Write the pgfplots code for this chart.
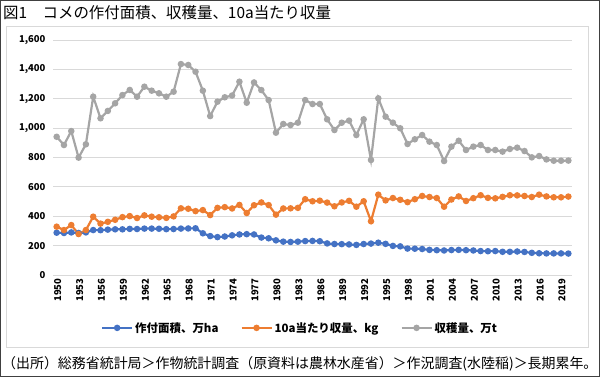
\documentclass[border=0pt]{standalone}
\usepackage{fontspec}
\setmainfont{Noto Sans CJK JP}
\usepackage{pgfplots}
\usepackage{pgfplotstable}
\pgfplotsset{compat=1.18}
\definecolor{cBlue}{HTML}{4472C4}
\definecolor{cOrange}{HTML}{ED7D31}
\definecolor{cGray}{HTML}{A5A5A5}

\pgfplotstableread{
year v
1950 288
1951 286
1952 290
1953 286
1954 290
1955 306
1956 305
1957 309
1958 311
1959 311
1960 314
1961 313
1962 316
1963 316
1964 315
1965 312
1966 313
1967 316
1968 317
1969 318
1970 284
1971 265
1972 258
1973 262
1974 270
1975 276
1976 278
1977 276
1978 255
1979 250
1980 236
1981 227
1982 225
1983 227
1984 231
1985 232
1986 230
1987 215
1988 211
1989 210
1990 208
1991 205
1992 211
1993 214
1994 220
1995 212
1996 198
1997 195
1998 180
1999 179
2000 177
2001 171
2002 169
2003 167
2004 170
2005 171
2006 169
2007 167
2008 163
2009 162
2010 163
2011 158
2012 158
2013 160
2014 157
2015 151
2016 148
2017 147
2018 147
2019 147
2020 146
}\areatab

\pgfplotstableread{
year v
1950 329
1951 306
1952 340
1953 279
1954 306
1955 397
1956 350
1957 362
1958 376
1959 394
1960 401
1961 388
1962 406
1963 397
1964 393
1965 389
1966 399
1967 454
1968 451
1969 435
1970 442
1971 408
1972 457
1973 462
1974 453
1975 477
1976 422
1977 475
1978 494
1979 476
1980 411
1981 453
1982 454
1983 457
1984 516
1985 502
1986 506
1987 493
1988 468
1989 494
1990 505
1991 465
1992 502
1993 366
1994 547
1995 508
1996 524
1997 512
1998 496
1999 516
2000 538
2001 531
2002 524
2003 465
2004 514
2005 535
2006 504
2007 523
2008 543
2009 525
2010 522
2011 532
2012 543
2013 542
2014 538
2015 531
2016 547
2017 535
2018 529
2019 529
2020 534
}\yieldtab

\pgfplotstableread{
year v
1950 941
1951 885
1952 980
1953 799
1954 890
1955 1214
1956 1067
1957 1117
1958 1169
1959 1225
1960 1260
1961 1214
1962 1282
1963 1255
1964 1237
1965 1214
1966 1248
1967 1436
1968 1430
1969 1384
1970 1255
1971 1082
1972 1180
1973 1210
1974 1222
1975 1316
1976 1173
1977 1311
1978 1259
1979 1191
1980 969
1981 1028
1982 1021
1983 1037
1984 1191
1985 1164
1986 1164
1987 1060
1988 987
1989 1037
1990 1051
1991 953
1992 1060
1993 783
1994 1203
1995 1078
1996 1037
1997 999
1998 892
1999 924
2000 953
2001 908
2002 885
2003 776
2004 874
2005 914
2006 851
2007 874
2008 885
2009 851
2010 851
2011 840
2012 858
2013 867
2014 844
2015 801
2016 810
2017 787
2018 778
2019 778
2020 779
}\harvesttab

\begin{document}
\begin{tikzpicture}[x=1bp,y=1bp]
\useasboundingbox (0,0) rectangle (600,377);
\draw[line width=1.2bp, black!75] (0.6,0.6) rectangle (599.4,376.4);
\draw[line width=0.8bp, black!15] (6,30) rectangle (588,351);
\node[anchor=west, inner sep=0pt, font=\fontsize{15.5}{17}\selectfont] at (3,364) {図1　コメの作付面積、収穫量、10a当たり収量};
\node[anchor=west, inner sep=0pt, font=\fontsize{14}{16}\selectfont] at (2,13) {（出所）総務省統計局＞作物統計調査（原資料は農林水産省）＞作況調査(水陸稲)＞長期累年。};
\begin{axis}[
  at={(53bp,102bp)}, anchor=south west,
  scale only axis, width=519bp, height=235bp,
  xmin=1949.5, xmax=2020.5, ymin=0, ymax=1600,
  ytick={0,200,...,1600},
  xtick={1950,1953,...,2019},
  axis line style={draw=none},
  major tick length=0pt,
  ymajorgrids, grid style={black!15, line width=0.8bp},
  /pgf/number format/assume math mode=true,
  ticklabel style={font=\fontsize{9.5}{11}\selectfont\bfseries},
  yticklabel style={/pgf/number format/1000 sep={,}, xshift=-4bp},
  xticklabel style={/pgf/number format/1000 sep={}, rotate=90, anchor=east, yshift=-1bp},
  legend columns=3,
  legend style={at={(0.476,-0.225)}, anchor=center, draw=none, fill=none,
    font=\fontsize{11.5}{13}\selectfont\bfseries,
    /tikz/every even column/.append style={column sep=20bp}},
  legend image code/.code={\draw[#1, mark repeat=2, mark phase=2] plot coordinates {(0bp,0bp) (15bp,0bp) (30bp,0bp)};},
  every axis plot/.append style={line width=2.2bp, mark=*, mark size=2.1bp, mark options={solid}},
]
\addplot[color=cBlue] table[x=year,y=v] {\areatab};
\addlegendentry{作付面積、万ha}
\addplot[color=cOrange] table[x=year,y=v] {\yieldtab};
\addlegendentry{10a当たり収量、kg}
\addplot[color=cGray] table[x=year,y=v] {\harvesttab};
\addlegendentry{収穫量、万t}
\end{axis}
\end{tikzpicture}
\end{document}
